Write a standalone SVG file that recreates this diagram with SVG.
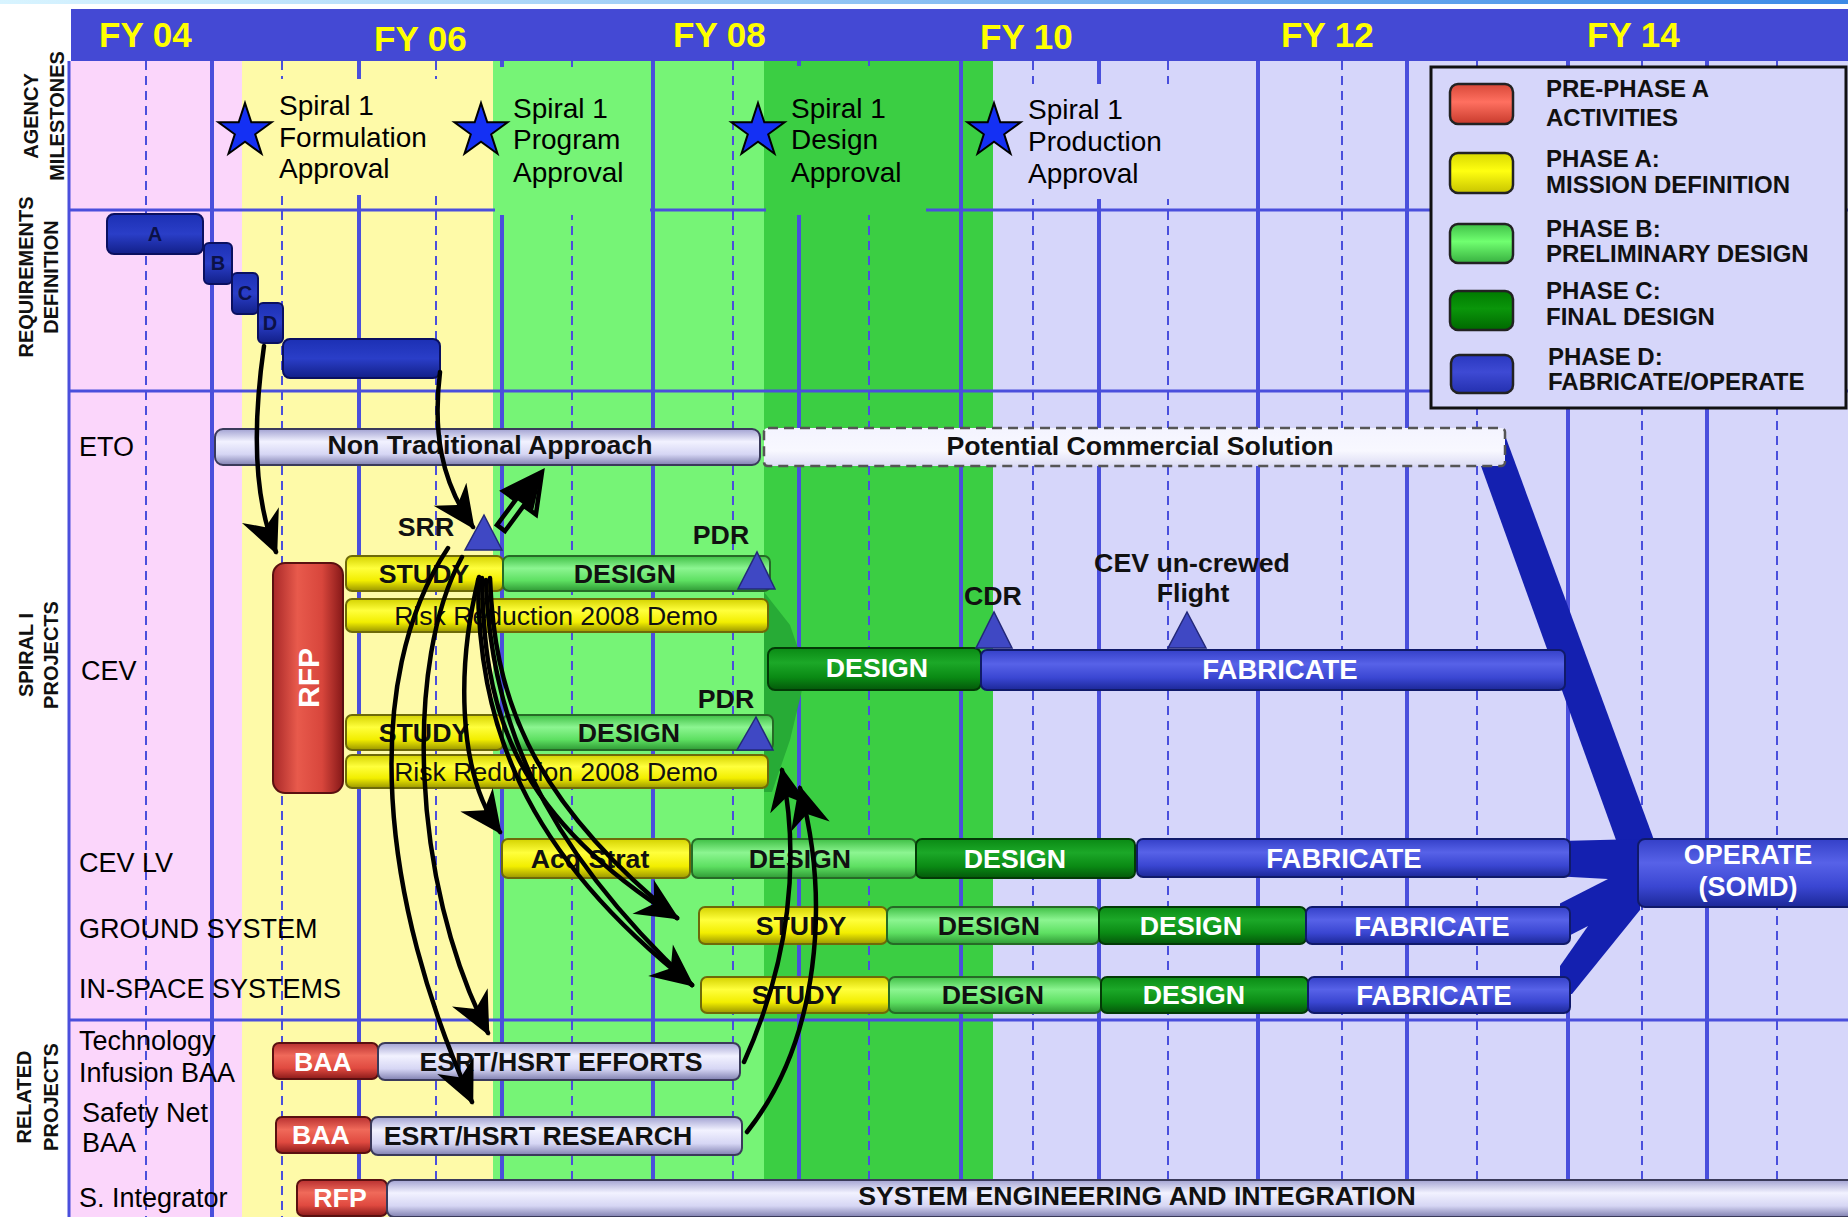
<svg xmlns="http://www.w3.org/2000/svg" width="1848" height="1217" viewBox="0 0 1848 1217">
<defs>
  <linearGradient id="gTop" x1="0" y1="0" x2="1" y2="0"><stop offset="0" stop-color="#d8f4ff"/><stop offset="1" stop-color="#3c8ae6"/></linearGradient>
  <linearGradient id="gY" x1="0" y1="0" x2="0" y2="1"><stop offset="0" stop-color="#d4d200"/><stop offset="0.35" stop-color="#ffff3c"/><stop offset="0.7" stop-color="#f2ee00"/><stop offset="1" stop-color="#9a9600"/></linearGradient>
  <linearGradient id="gLG" x1="0" y1="0" x2="0" y2="1"><stop offset="0" stop-color="#3fbf45"/><stop offset="0.35" stop-color="#8cf591"/><stop offset="0.7" stop-color="#5ee062"/><stop offset="1" stop-color="#2f9a35"/></linearGradient>
  <linearGradient id="gDG" x1="0" y1="0" x2="0" y2="1"><stop offset="0" stop-color="#0a8a14"/><stop offset="0.35" stop-color="#1ca828"/><stop offset="0.7" stop-color="#0a8a14"/><stop offset="1" stop-color="#04580a"/></linearGradient>
  <linearGradient id="gB" x1="0" y1="0" x2="0" y2="1"><stop offset="0" stop-color="#3440c8"/><stop offset="0.35" stop-color="#5762e8"/><stop offset="0.7" stop-color="#3a46d2"/><stop offset="1" stop-color="#1c2898"/></linearGradient>
  <linearGradient id="gL" x1="0" y1="0" x2="0" y2="1"><stop offset="0" stop-color="#a2a2d2"/><stop offset="0.35" stop-color="#f2f2ff"/><stop offset="0.7" stop-color="#d6d6f4"/><stop offset="1" stop-color="#8080b0"/></linearGradient>
  <linearGradient id="gW" x1="0" y1="0" x2="0" y2="1"><stop offset="0" stop-color="#f4f4ff"/><stop offset="0.6" stop-color="#f8f8ff"/><stop offset="1" stop-color="#dcdcf4"/></linearGradient>
  <linearGradient id="gR" x1="0" y1="0" x2="0" y2="1"><stop offset="0" stop-color="#b83030"/><stop offset="0.35" stop-color="#f06a5a"/><stop offset="0.7" stop-color="#e04a40"/><stop offset="1" stop-color="#8a1a1a"/></linearGradient>
  <linearGradient id="gRh" x1="0" y1="0" x2="1" y2="0"><stop offset="0" stop-color="#a82828"/><stop offset="0.35" stop-color="#e85a4c"/><stop offset="0.7" stop-color="#d8463c"/><stop offset="1" stop-color="#861818"/></linearGradient>
  <linearGradient id="gReq" x1="0" y1="0" x2="0" y2="1"><stop offset="0" stop-color="#1c30b4"/><stop offset="0.5" stop-color="#2a3ec8"/><stop offset="1" stop-color="#121f88"/></linearGradient>
  <linearGradient id="gLegR" x1="0" y1="0" x2="0" y2="1"><stop offset="0" stop-color="#d84838"/><stop offset="0.45" stop-color="#ff7060"/><stop offset="1" stop-color="#c83a2c"/></linearGradient>
  <linearGradient id="gLegY" x1="0" y1="0" x2="0" y2="1"><stop offset="0" stop-color="#d8d800"/><stop offset="0.45" stop-color="#ffff10"/><stop offset="1" stop-color="#c8c400"/></linearGradient>
  <linearGradient id="gLegG" x1="0" y1="0" x2="0" y2="1"><stop offset="0" stop-color="#40c048"/><stop offset="0.45" stop-color="#70ff70"/><stop offset="1" stop-color="#38b040"/></linearGradient>
  <linearGradient id="gLegD" x1="0" y1="0" x2="0" y2="1"><stop offset="0" stop-color="#007a00"/><stop offset="0.45" stop-color="#0a960a"/><stop offset="1" stop-color="#006800"/></linearGradient>
  <linearGradient id="gLegB" x1="0" y1="0" x2="0" y2="1"><stop offset="0" stop-color="#2a38c0"/><stop offset="0.45" stop-color="#3e4ad4"/><stop offset="1" stop-color="#2430b0"/></linearGradient>
  <marker id="barb" markerUnits="userSpaceOnUse" markerWidth="50" markerHeight="50" viewBox="-44 -24 50 48" refX="0" refY="0" orient="auto">
    <path d="M3,0 L-40,-20 L-27,0 L-40,20 Z" fill="#000"/>
  </marker>
  <path id="star" d="M0,-28 L6.3,-8.7 L26.6,-8.7 L10.2,3.3 L16.5,22.7 L0,10.7 L-16.5,22.7 L-10.2,3.3 L-26.6,-8.7 L-6.3,-8.7 Z" fill="#1430f4" stroke="#000" stroke-width="2" stroke-linejoin="miter"/>
  <style>
    text { font-family: "Liberation Sans", Arial, Helvetica, sans-serif; }
    .sl { font-size: 20px; font-weight: bold; fill: #111; text-anchor: middle; }
    .fy { font-size: 35px; font-weight: bold; fill: #ffff00; }
    .ms { font-size: 28px; fill: #000; }
    .rl { font-size: 27px; fill: #000; }
    .bt { font-size: 26.7px; font-weight: bold; fill: #111; text-anchor: middle; }
    .fab { font-size: 27.5px; }
    .nt { font-size: 26.6px; fill: #111; text-anchor: middle; }
    .wt { fill: #fff; }
    .lg { font-size: 24px; font-weight: bold; fill: #111; }
    .gs { stroke: #4a4fdc; stroke-width: 4; }
    .gd { stroke: #4a4fdc; stroke-width: 2; stroke-dasharray: 9 6; }
    .hl { stroke: #4a4fdc; stroke-width: 3; }
    .y { fill: url(#gY); stroke: #6e6a08; stroke-width: 2; }
    .lgn { fill: url(#gLG); stroke: #266a26; stroke-width: 2; }
    .dg { fill: url(#gDG); stroke: #033a06; stroke-width: 2; }
    .bl { fill: url(#gB); stroke: #101a6a; stroke-width: 2; }
    .lv { fill: url(#gL); stroke: #3a3a5a; stroke-width: 2; }
    .rd { fill: url(#gR); stroke: #5a1010; stroke-width: 2; }
    .tri { fill: #3f48c4; stroke: #23287a; stroke-width: 1.5; }
    .rq { fill: url(#gReq); stroke: #0a1060; stroke-width: 2; }
    .rqt { font-size: 20px; font-weight: bold; fill: #0b1148; text-anchor: middle; }
    .arr { fill: none; stroke: #000; stroke-width: 4.5; stroke-linecap: round; }
    .band { fill: #1420b0; }
    .sw { stroke: #222; stroke-width: 2.5; }
  </style>
</defs>

<!-- page and phase columns -->
<g id="background">
  <rect x="0" y="0" width="1848" height="1217" fill="#fff"/>
  <rect x="0" y="0" width="1848" height="4" fill="url(#gTop)"/>
  <rect x="69" y="61" width="173" height="1156" fill="#fbd6fb"/>
  <rect x="242" y="61" width="251" height="1156" fill="#fefaa8"/>
  <rect x="493" y="61" width="271" height="1156" fill="#76f476"/>
  <rect x="764" y="61" width="229" height="1156" fill="#3bce43"/>
  <rect x="993" y="61" width="855" height="1156" fill="#d6d6fa"/>
</g>

<!-- quarter and year grid -->
<g id="grid">
  <line class="gd" x1="146" y1="61" x2="146" y2="1217"/>
  <line class="gs" x1="212" y1="61" x2="212" y2="1217"/>
  <line class="gd" x1="282" y1="61" x2="282" y2="1217"/>
  <line class="gs" x1="359" y1="61" x2="359" y2="1217"/>
  <line class="gd" x1="436" y1="61" x2="436" y2="1217"/>
  <line class="gs" x1="502" y1="61" x2="502" y2="1217"/>
  <line class="gd" x1="572" y1="61" x2="572" y2="1217"/>
  <line class="gs" x1="653" y1="61" x2="653" y2="1217"/>
  <line class="gd" x1="733" y1="61" x2="733" y2="1217"/>
  <line class="gs" x1="799" y1="61" x2="799" y2="1217"/>
  <line class="gd" x1="869" y1="61" x2="869" y2="1217"/>
  <line class="gs" x1="961" y1="61" x2="961" y2="1217"/>
  <line class="gd" x1="1033" y1="61" x2="1033" y2="1217"/>
  <line class="gs" x1="1099" y1="61" x2="1099" y2="1217"/>
  <line class="gd" x1="1168" y1="61" x2="1168" y2="1217"/>
  <line class="gs" x1="1258" y1="61" x2="1258" y2="1217"/>
  <line class="gd" x1="1342" y1="61" x2="1342" y2="1217"/>
  <line class="gs" x1="1407" y1="61" x2="1407" y2="1217"/>
  <line class="gd" x1="1477" y1="61" x2="1477" y2="1217"/>
  <line class="gs" x1="1568" y1="61" x2="1568" y2="1217"/>
  <line class="gd" x1="1642" y1="61" x2="1642" y2="1217"/>
  <line class="gs" x1="1707" y1="61" x2="1707" y2="1217"/>
  <line class="gd" x1="1777" y1="61" x2="1777" y2="1217"/>
  <line class="hl" x1="69" y1="61" x2="69" y2="1217"/>
  <line class="hl" x1="69" y1="210" x2="1848" y2="210"/>
  <line class="hl" x1="69" y1="391" x2="1848" y2="391"/>
  <line class="hl" x1="69" y1="1020" x2="1848" y2="1020"/>
  <!-- backings behind the milestone captions -->
  <rect x="248" y="79" width="242" height="116" fill="#fefaa8"/>
  <rect x="495" y="67" width="155" height="148" fill="#76f476"/>
  <rect x="766" y="66" width="160" height="149" fill="#3bce43"/>
  <rect x="1000" y="84" width="250" height="115" fill="#d6d6fa"/>
</g>

<!-- fiscal year header -->
<g id="header">
  <rect x="71" y="9" width="1777" height="52" fill="#4449d4"/>
  <text class="fy" x="99" y="47">FY 04</text>
  <text class="fy" x="374" y="51">FY 06</text>
  <text class="fy" x="673" y="47">FY 08</text>
  <text class="fy" x="980" y="49">FY 10</text>
  <text class="fy" x="1281" y="47">FY 12</text>
  <text class="fy" x="1587" y="47">FY 14</text>
</g>

<!-- swimlane titles -->
<g id="lane-titles">
  <text class="sl" transform="translate(38,116) rotate(-90)">AGENCY</text>
  <text class="sl" transform="translate(64,116) rotate(-90)">MILESTONES</text>
  <text class="sl" transform="translate(33,277) rotate(-90)">REQUIREMENTS</text>
  <text class="sl" transform="translate(58,277) rotate(-90)">DEFINITION</text>
  <text class="sl" transform="translate(33,655) rotate(-90)">SPIRAL I</text>
  <text class="sl" transform="translate(58,655) rotate(-90)">PROJECTS</text>
  <text class="sl" transform="translate(31,1097) rotate(-90)">RELATED</text>
  <text class="sl" transform="translate(58,1097) rotate(-90)">PROJECTS</text>
</g>

<!-- row labels -->
<g id="row-labels">
  <text class="rl" x="79" y="456">ETO</text>
  <text class="rl" x="81" y="680">CEV</text>
  <text class="rl" x="79" y="872">CEV LV</text>
  <text class="rl" x="79" y="938">GROUND SYSTEM</text>
  <text class="rl" x="79" y="998">IN-SPACE SYSTEMS</text>
  <text class="rl" x="79" y="1050">Technology</text>
  <text class="rl" x="79" y="1082">Infusion BAA</text>
  <text class="rl" x="82" y="1122">Safety Net</text>
  <text class="rl" x="82" y="1152">BAA</text>
  <text class="rl" x="79" y="1207">S. Integrator</text>
</g>

<!-- agency milestones -->
<g id="milestone-formulation">
  <use href="#star" x="245" y="131"/>
  <text class="ms" x="279" y="115">Spiral 1</text>
  <text class="ms" x="279" y="147">Formulation</text>
  <text class="ms" x="279" y="178">Approval</text>
</g>
<g id="milestone-program">
  <use href="#star" x="481" y="131"/>
  <text class="ms" x="513" y="118">Spiral 1</text>
  <text class="ms" x="513" y="149">Program</text>
  <text class="ms" x="513" y="182">Approval</text>
</g>
<g id="milestone-design">
  <use href="#star" x="758" y="131"/>
  <text class="ms" x="791" y="118">Spiral 1</text>
  <text class="ms" x="791" y="149">Design</text>
  <text class="ms" x="791" y="182">Approval</text>
</g>
<g id="milestone-production">
  <use href="#star" x="994" y="131"/>
  <text class="ms" x="1028" y="119">Spiral 1</text>
  <text class="ms" x="1028" y="151">Production</text>
  <text class="ms" x="1028" y="183">Approval</text>
</g>

<!-- phase legend -->
<g id="legend">
  <rect x="1431" y="67" width="415" height="341" fill="#d6d6fa" stroke="#111" stroke-width="3"/>
  <rect class="sw" x="1450" y="84" width="63" height="40" rx="8" fill="url(#gLegR)"/>
  <rect class="sw" x="1450" y="153" width="63" height="40" rx="8" fill="url(#gLegY)"/>
  <rect class="sw" x="1450" y="224" width="63" height="39" rx="8" fill="url(#gLegG)"/>
  <rect class="sw" x="1450" y="291" width="63" height="39" rx="8" fill="url(#gLegD)"/>
  <rect class="sw" x="1451" y="355" width="62" height="38" rx="8" fill="url(#gLegB)"/>
  <text class="lg" x="1546" y="97">PRE-PHASE A</text>
  <text class="lg" x="1546" y="126">ACTIVITIES</text>
  <text class="lg" x="1546" y="167">PHASE A:</text>
  <text class="lg" x="1546" y="193">MISSION DEFINITION</text>
  <text class="lg" x="1546" y="237">PHASE B:</text>
  <text class="lg" x="1546" y="262">PRELIMINARY DESIGN</text>
  <text class="lg" x="1546" y="299">PHASE C:</text>
  <text class="lg" x="1546" y="325">FINAL DESIGN</text>
  <text class="lg" x="1548" y="365">PHASE D:</text>
  <text class="lg" x="1548" y="390">FABRICATE/OPERATE</text>
</g>

<!-- requirements definition steps -->
<g id="req-a"><rect class="rq" x="107" y="214" width="96" height="40" rx="7"/><text class="rqt" x="155" y="241">A</text></g>
<g id="req-b"><rect class="rq" x="204" y="243" width="28" height="41" rx="5"/><text class="rqt" x="218" y="270">B</text></g>
<g id="req-c"><rect class="rq" x="232" y="273" width="26" height="41" rx="5"/><text class="rqt" x="245" y="300">C</text></g>
<g id="req-d"><rect class="rq" x="258" y="303" width="25" height="40" rx="5"/><text class="rqt" x="270" y="330">D</text></g>
<g id="req-final"><rect class="rq" x="283" y="339" width="157" height="39" rx="7"/></g>

<!-- feeds into operations -->
<g id="feed-bands">
  <polygon class="band" points="1481,466 1506,438 1654,840 1616,840"/>
  <polygon class="band" points="1560,841 1640,839 1640,910 1572,994 1560,994"/>
  <polygon fill="#d6d6fa" points="1553,876 1608,879 1553,907"/>
  <polygon fill="#d6d6fa" points="1553,944 1588,926 1553,976"/>
  <polygon fill="#27ab36" points="764,592 790,625 802,660 802,690 790,740 772,792 764,792"/>
</g>

<!-- ETO row -->
<g id="eto-nta"><rect class="lv" x="215" y="429" width="545" height="36" rx="8"/><text class="bt" x="490" y="454">Non Traditional Approach</text></g>
<g id="eto-pcs"><rect x="764" y="428" width="741" height="38" rx="4" fill="url(#gW)" stroke="#555" stroke-width="2.5" stroke-dasharray="10 6"/><text class="bt" x="1140" y="455">Potential Commercial Solution</text></g>

<!-- CEV row -->
<g id="cev-rfp"><rect x="273" y="563" width="70" height="230" rx="12" fill="url(#gRh)" stroke="#5a1010" stroke-width="2"/><text class="bt wt" transform="translate(319,678) rotate(-90)" style="font-size:30px">RFP</text></g>
<g id="cev-srr"><polygon class="tri" points="465,550 502,550 484,515"/><text class="bt" x="426" y="536">SRR</text></g>
<g id="cev-study-1"><rect class="y" x="346" y="556" width="157" height="35" rx="6"/><text class="bt" x="424" y="583">STUDY</text></g>
<g id="cev-design-1"><rect class="lgn" x="503" y="556" width="267" height="35" rx="6"/><text class="bt" x="625" y="583">DESIGN</text></g>
<g id="cev-pdr-1"><polygon class="tri" points="738,589 775,589 757,552"/><text class="bt" x="721" y="544">PDR</text></g>
<g id="cev-risk-1"><rect class="y" x="346" y="599" width="422" height="33" rx="6"/><text class="nt" x="556" y="625">Risk Reduction 2008 Demo</text></g>
<g id="cev-study-2"><rect class="y" x="346" y="715" width="157" height="35" rx="6"/><text class="bt" x="424" y="742">STUDY</text></g>
<g id="cev-design-2"><rect class="lgn" x="503" y="715" width="270" height="35" rx="6"/><text class="bt" x="629" y="742">DESIGN</text></g>
<g id="cev-pdr-2"><polygon class="tri" points="737,750 773,750 756,717"/><text class="bt" x="726" y="708">PDR</text></g>
<g id="cev-risk-2"><rect class="y" x="346" y="755" width="422" height="33" rx="6"/><text class="nt" x="556" y="781">Risk Reduction 2008 Demo</text></g>
<g id="cev-final-design"><rect class="dg" x="768" y="648" width="213" height="42" rx="7"/><text class="bt wt" x="877" y="677">DESIGN</text></g>
<g id="cev-fabricate"><rect class="bl" x="981" y="650" width="584" height="40" rx="6"/><text class="bt wt fab" x="1280" y="679">FABRICATE</text></g>
<g id="cev-cdr"><polygon class="tri" points="976,648 1012,648 994,612"/><text class="bt" x="993" y="605">CDR</text></g>
<g id="cev-flight"><polygon class="tri" points="1168,648 1206,648 1187,612"/><text class="bt" x="1192" y="572">CEV un-crewed</text><text class="bt" x="1193" y="602">Flight</text></g>

<!-- CEV LV row -->
<g id="lv-acq"><rect class="y" x="502" y="839" width="188" height="39" rx="6"/><text class="bt" x="590" y="868">Acq Strat</text></g>
<g id="lv-design-b"><rect class="lgn" x="692" y="839" width="224" height="39" rx="6"/><text class="bt" x="800" y="868">DESIGN</text></g>
<g id="lv-design-c"><rect class="dg" x="916" y="839" width="219" height="39" rx="6"/><text class="bt wt" x="1015" y="868">DESIGN</text></g>
<g id="lv-fabricate"><rect class="bl" x="1137" y="839" width="433" height="38" rx="6"/><text class="bt wt fab" x="1344" y="868">FABRICATE</text></g>

<!-- ground system row -->
<g id="gs-study"><rect class="y" x="699" y="907" width="188" height="37" rx="6"/><text class="bt" x="801" y="935">STUDY</text></g>
<g id="gs-design-b"><rect class="lgn" x="887" y="907" width="212" height="37" rx="6"/><text class="bt" x="989" y="935">DESIGN</text></g>
<g id="gs-design-c"><rect class="dg" x="1099" y="907" width="207" height="37" rx="6"/><text class="bt wt" x="1191" y="935">DESIGN</text></g>
<g id="gs-fabricate"><rect class="bl" x="1306" y="907" width="264" height="37" rx="6"/><text class="bt wt fab" x="1432" y="936">FABRICATE</text></g>

<!-- in-space systems row -->
<g id="is-study"><rect class="y" x="701" y="977" width="188" height="36" rx="6"/><text class="bt" x="797" y="1004">STUDY</text></g>
<g id="is-design-b"><rect class="lgn" x="889" y="977" width="212" height="36" rx="6"/><text class="bt" x="993" y="1004">DESIGN</text></g>
<g id="is-design-c"><rect class="dg" x="1101" y="977" width="207" height="36" rx="6"/><text class="bt wt" x="1194" y="1004">DESIGN</text></g>
<g id="is-fabricate"><rect class="bl" x="1308" y="977" width="262" height="36" rx="6"/><text class="bt wt fab" x="1434" y="1005">FABRICATE</text></g>

<!-- operations -->
<g id="operate"><rect class="bl" x="1638" y="839" width="222" height="68" rx="7"/><text class="bt wt" x="1748" y="864" style="font-size:27px">OPERATE</text><text class="bt wt" x="1748" y="896" style="font-size:27px">(SOMD)</text></g>

<!-- related projects -->
<g id="tech-baa"><rect class="rd" x="273" y="1043" width="105" height="36" rx="6"/><text class="bt wt" x="323" y="1071">BAA</text></g>
<g id="tech-efforts"><rect class="lv" x="378" y="1043" width="362" height="37" rx="7"/><text class="bt" x="561" y="1071">ESRT/HSRT EFFORTS</text></g>
<g id="safety-baa"><rect class="rd" x="276" y="1117" width="95" height="36" rx="6"/><text class="bt wt" x="321" y="1144">BAA</text></g>
<g id="safety-research"><rect class="lv" x="371" y="1117" width="371" height="38" rx="7"/><text class="bt" x="538" y="1145">ESRT/HSRT RESEARCH</text></g>
<g id="si-rfp"><rect class="rd" x="297" y="1180" width="90" height="36" rx="6"/><text class="bt wt" x="340" y="1207">RFP</text></g>
<g id="si-sei"><rect class="lv" x="387" y="1180" width="1480" height="37" rx="7"/><text class="bt" x="1137" y="1205">SYSTEM ENGINEERING AND INTEGRATION</text></g>

<!-- flow arrows -->
<g id="connectors">
  <path class="arr" d="M264,346 C252,430 254,500 276,552" marker-end="url(#barb)"/>
  <path class="arr" d="M440,372 C433,430 440,480 473,527" marker-end="url(#barb)"/>
  <!-- hollow block arrow from SRR up to the ETO bar -->
  <polygon points="505,531 523.7,505.7 535.9,514.5 542,472 503.5,491.1 515.6,499.9 497,525" fill="none" stroke="#000" stroke-width="4.5" stroke-linejoin="miter"/>
  <polygon points="542,472 533,511 506,492" fill="#000"/>
  <path class="arr" d="M448,548 C360,680 380,900 472,1102" marker-end="url(#barb)"/>
  <path class="arr" d="M462,557 C405,660 410,880 488,1033" marker-end="url(#barb)"/>
  <path class="arr" d="M479,577 C458,660 455,770 500,832" marker-end="url(#barb)"/>
  <path class="arr" d="M482,578 C484,700 505,810 677,918" marker-end="url(#barb)"/>
  <path class="arr" d="M490,578 C494,690 525,795 677,918"/>
  <path class="arr" d="M478,580 C478,720 520,850 692,985" marker-end="url(#barb)"/>
  <path class="arr" d="M486,580 C490,712 535,838 692,985"/>
  <path class="arr" d="M744,1062 C790,960 800,860 782,770" marker-end="url(#barb)"/>
  <path class="arr" d="M747,1132 C820,1040 830,900 800,788" marker-end="url(#barb)"/>
</g>
</svg>
